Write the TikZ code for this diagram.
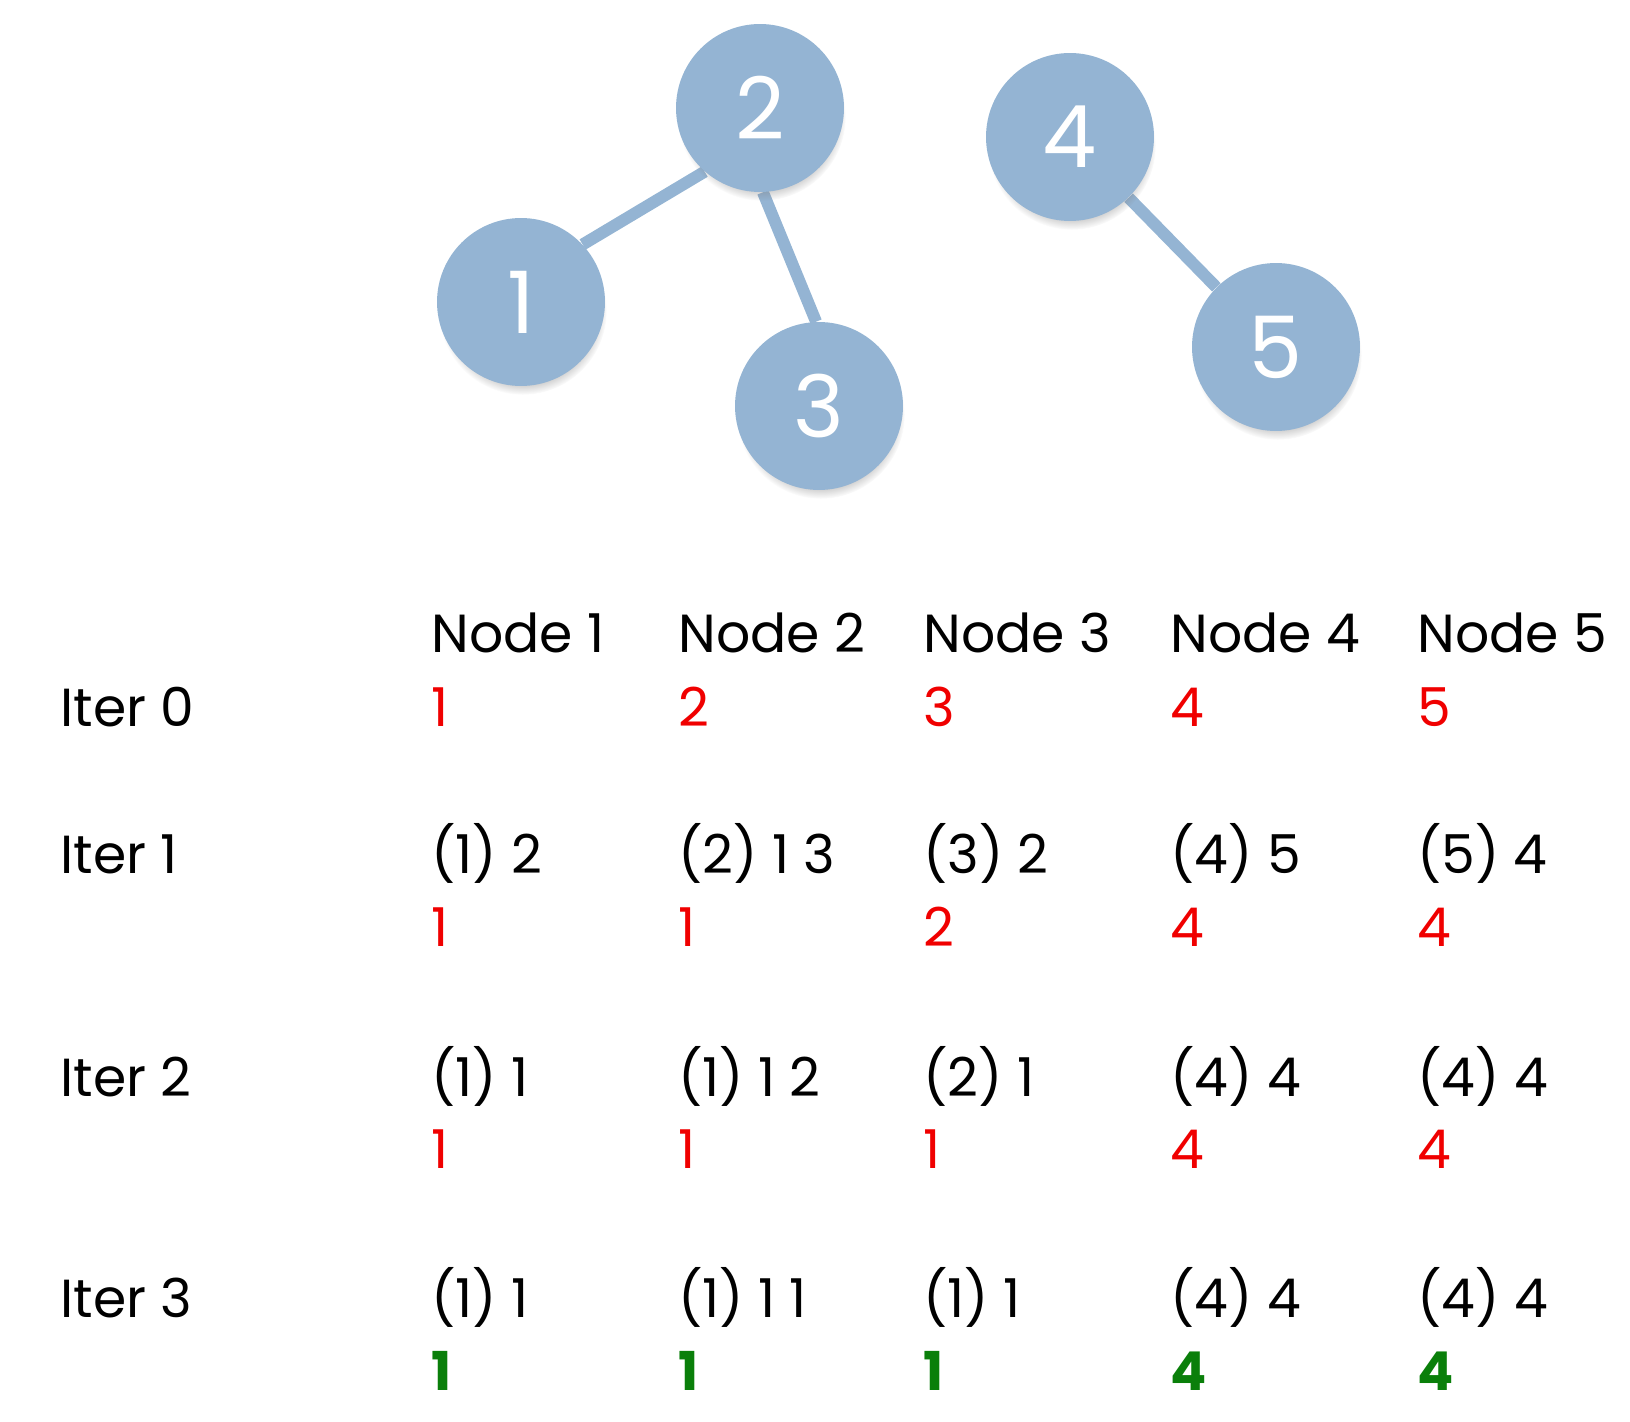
\documentclass[tikz,border=0pt]{standalone}
\usepackage{fontspec}
\setmainfont{Poppins}
\usepackage{tikz}
\usetikzlibrary{positioning,shadows,backgrounds}
\definecolor{Disc}{HTML}{94B4D3}
\definecolor{Ink}{HTML}{000000}
\definecolor{Label}{HTML}{F00000}
\definecolor{Done}{HTML}{0A7F0A}
\tikzset{
  vertex/.style={circle,fill=Disc,minimum size=3.36cm,inner sep=0pt,text=white,font=\fontsize{49}{53}\selectfont,
    circular drop shadow={shadow xshift=1pt,shadow yshift=-5pt,shadow scale=1.0,opacity=0.45}},
  link/.style={draw=Disc,line width=6.8pt},
  cell/.style={anchor=base west,inner sep=0pt,text=Ink,font=\fontsize{30.5}{36}\selectfont},
  newlabel/.style={cell,text=Label},
  finallabel/.style={cell,text=Done,font=\fontsize{30.5}{36}\selectfont\bfseries}
}

\begin{document}
\begin{tikzpicture}[x=0.02cm,y=-0.02cm]
  \useasboundingbox (0,0) rectangle (1630,1422);
  % graph
  \node[vertex] (n1) at (521,302) {1};
  \node[vertex] (n2) at (760,108) {2};
  \node[vertex] (n3) at (819,406) {3};
  \node[vertex] (n4) at (1070,137) {4};
  \node[vertex] (n5) at (1276,347) {5};
  \begin{scope}[on background layer]
    \draw[link] (n1.43) -- (n2.229);
    \draw[link] (n2.272) -- (n3.92);
    \draw[link] (n4.314) -- (n5.135);
  \end{scope}

  % header
  \node[cell] (h1) at (431,652) {Node 1};
  \node[cell] (h2) at (678,652) {Node 2};
  \node[cell] (h3) at (923,652) {Node 3};
  \node[cell] (h4) at (1170,652) {Node 4};
  \node[cell] (h5) at (1417,652) {Node 5};

  % iter 0
  \node[cell] (it0) at (60,726) {Iter 0};
  \node[newlabel] (l01) at (431,726) {1};
  \node[newlabel] (l02) at (678,726) {2};
  \node[newlabel] (l03) at (923,726) {3};
  \node[newlabel] (l04) at (1170,726) {4};
  \node[newlabel] (l05) at (1417,726) {5};

  % iter 1
  \node[cell] (it1) at (60,873) {Iter 1};
  \node[cell] (m11) at (431,873) {(1) 2};
  \node[cell] (m12) at (678,873) {(2) 1 3};
  \node[cell] (m13) at (923,873) {(3) 2};
  \node[cell] (m14) at (1170,873) {(4) 5};
  \node[cell] (m15) at (1417,873) {(5) 4};
  \node[newlabel] (l11) at (431,946) {1};
  \node[newlabel] (l12) at (678,946) {1};
  \node[newlabel] (l13) at (923,946) {2};
  \node[newlabel] (l14) at (1170,946) {4};
  \node[newlabel] (l15) at (1417,946) {4};

  % iter 2
  \node[cell] (it2) at (60,1096) {Iter 2};
  \node[cell] (m21) at (431,1096) {(1) 1};
  \node[cell] (m22) at (678,1096) {(1) 1 2};
  \node[cell] (m23) at (923,1096) {(2) 1};
  \node[cell] (m24) at (1170,1096) {(4) 4};
  \node[cell] (m25) at (1417,1096) {(4) 4};
  \node[newlabel] (l21) at (431,1168) {1};
  \node[newlabel] (l22) at (678,1168) {1};
  \node[newlabel] (l23) at (923,1168) {1};
  \node[newlabel] (l24) at (1170,1168) {4};
  \node[newlabel] (l25) at (1417,1168) {4};

  % iter 3
  \node[cell] (it3) at (60,1317) {Iter 3};
  \node[cell] (m31) at (431,1317) {(1) 1};
  \node[cell] (m32) at (678,1317) {(1) 1 1};
  \node[cell] (m33) at (923,1317) {(1) 1};
  \node[cell] (m34) at (1170,1317) {(4) 4};
  \node[cell] (m35) at (1417,1317) {(4) 4};
  \node[finallabel] (l31) at (431,1390) {1};
  \node[finallabel] (l32) at (678,1390) {1};
  \node[finallabel] (l33) at (923,1390) {1};
  \node[finallabel] (l34) at (1170,1390) {4};
  \node[finallabel] (l35) at (1417,1390) {4};
\end{tikzpicture}
\end{document}
